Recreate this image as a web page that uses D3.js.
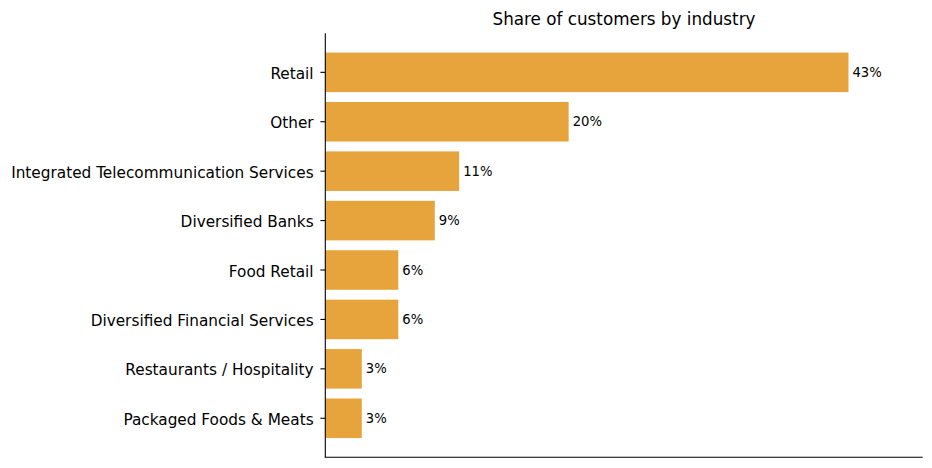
<!DOCTYPE html>
<html>
<head>
<meta charset="utf-8">
<script src="https://cdn.jsdelivr.net/npm/d3@7"></script>
<style>
  html, body { margin: 0; padding: 0; background: #fff; }
  svg { display: block; font-family: "DejaVu Sans", sans-serif; }
</style>
</head>
<body>
<svg id="chart" width="932" height="468"></svg>
<script>
// categories from top to bottom, with their share in percent
const industries = [
  "Retail",
  "Other",
  "Integrated Telecommunication Services",
  "Diversified Banks",
  "Food Retail",
  "Diversified Financial Services",
  "Restaurants / Hospitality",
  "Packaged Foods & Meats"
];
const shares = [43, 20, 11, 9, 6, 6, 3, 3];
const valueLabels = ["43%", "20%", "11%", "9%", "6%", "6%", "3%", "3%"];
const xMax = 49.1;

const data = industries.map((name, i) => ({ name, share: shares[i], label: valueLabels[i] }));

const margin = { top: 33.3, right: 9.3, bottom: 10.7, left: 325.3 };
const width  = 932;
const height = 468;

const svg = d3.select("#chart");

const x = d3.scaleLinear()
  .domain([0, xMax])
  .range([margin.left, width - margin.right]);

const y = d3.scaleBand()
  .domain(industries)
  .range([margin.top, height - margin.bottom])
  .paddingInner(0.2)
  .paddingOuter(0.39);

svg.append("g")
  .selectAll("rect")
  .data(data)
  .join("rect")
  .attr("x", x(0))
  .attr("y", d => y(d.name))
  .attr("width", d => x(d.share) - x(0))
  .attr("height", y.bandwidth())
  .attr("fill", "#e8a43c");

svg.append("g")
  .selectAll("text")
  .data(data)
  .join("text")
  .attr("x", d => x(d.share) + 4)
  .attr("y", d => y(d.name) + y.bandwidth() / 2)
  .attr("dominant-baseline", "central")
  .attr("font-size", "13.2px")
  .attr("fill", "#000")
  .text(d => d.label);

// left axis: ticks and labels only, spine drawn below
const yAxis = svg.append("g")
  .attr("transform", `translate(${margin.left},0)`)
  .call(d3.axisLeft(y).tickSize(4.9).tickPadding(6.8));
yAxis.select(".domain").remove();
yAxis.selectAll(".tick line").attr("stroke", "#000").attr("stroke-width", 1.1);
yAxis.selectAll(".tick text")
  .attr("font-size", "15.3px")
  .attr("font-family", "DejaVu Sans, sans-serif")
  .attr("fill", "#000")
  .attr("dy", "1.5px")
  .attr("dominant-baseline", "central");

// spines: left and bottom
svg.append("line")
  .attr("x1", margin.left).attr("x2", margin.left)
  .attr("y1", margin.top).attr("y2", height - margin.bottom)
  .attr("stroke", "#000").attr("stroke-width", 1.1);
svg.append("line")
  .attr("x1", margin.left - 0.55).attr("x2", width - margin.right)
  .attr("y1", height - margin.bottom).attr("y2", height - margin.bottom)
  .attr("stroke", "#000").attr("stroke-width", 1.1);

svg.append("text")
  .attr("x", (margin.left + width - margin.right) / 2)
  .attr("y", 25)
  .attr("text-anchor", "middle")
  .attr("font-size", "16.8px")
  .attr("fill", "#000")
  .text("Share of customers by industry");
</script>
</body>
</html>
